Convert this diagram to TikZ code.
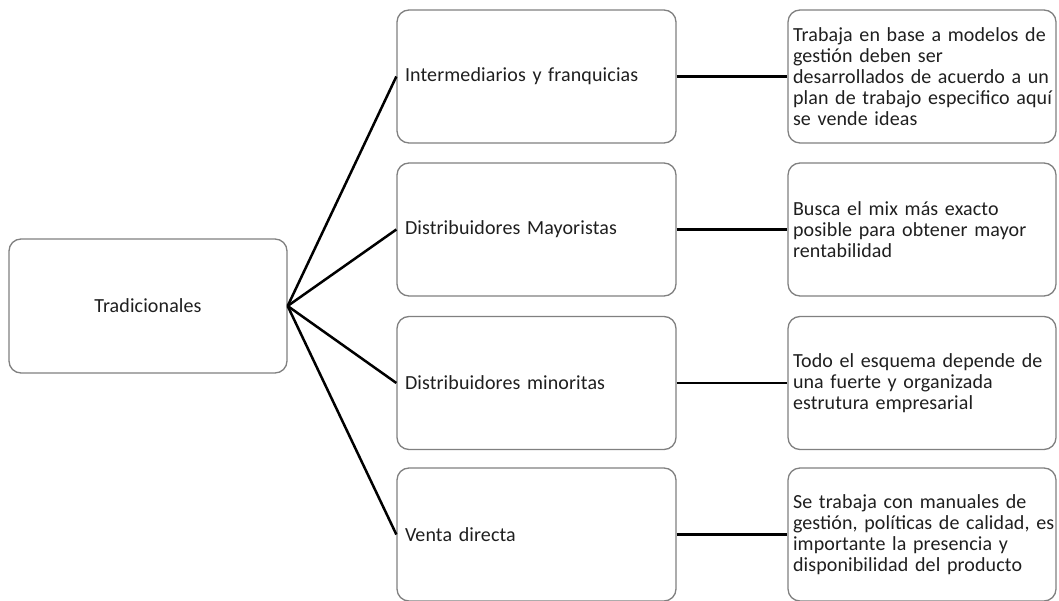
\documentclass[tikz,border=0pt]{standalone}
\usepackage{fontspec}
\setmainfont{Carlito}[LetterSpace=0.6]
\begin{document}
\begin{tikzpicture}[x=1pt,y=-1pt,
  box/.style={draw=black!50, line width=1.3pt, rounded corners=12pt, fill=white,
    text=black!88, font=\fontsize{20}{21}\selectfont, inner ysep=0pt},
  rootbox/.style={box, minimum width=278pt, minimum height=134pt, align=center},
  midbox/.style={box, minimum width=279pt, minimum height=133pt, inner xsep=8pt,
    text width=263pt, align=left},
  notebox/.style={box, minimum width=268pt, minimum height=133pt, inner xsep=5pt,
    text width=258pt, align=left},
  link/.style={line width=2.5pt, black}]
\useasboundingbox (0,0) rectangle (1059,601);

% root of the tree
\node[rootbox] (root) at (148,306) {Tradicionales};

% channels
\node[midbox] (m1) at (536.5,76.5)  {Intermediarios y franquicias};
\node[midbox] (m2) at (536.5,229.5) {Distribuidores Mayoristas};
\node[midbox] (m3) at (536.5,383)   {Distribuidores minoritas};
\node[midbox] (m4) at (536.5,534.5) {Venta directa};

% descriptions, one unbreakable box per printed line
\node[notebox] (n1) at (922,76.5) {\mbox{Trabaja en base a modelos de}\\\mbox{gestión deben ser}\\\mbox{desarrollados de acuerdo a un}\\\mbox{plan de trabajo especifico aquí}\\\mbox{se vende ideas}};
\node[notebox] (n2) at (922,229.5) {\mbox{Busca el mix más exacto}\\\mbox{posible para obtener mayor}\\\mbox{rentabilidad}};
\node[notebox] (n3) at (922,383) {\mbox{Todo el esquema depende de}\\\mbox{una fuerte y organizada}\\\mbox{estrutura empresarial}};
\node[notebox] (n4) at (922,534.5) {\mbox{Se trabaja con manuales de}\\\mbox{gestión, políticas de calidad, es}\\\mbox{importante la presencia y}\\\mbox{disponibilidad del producto}};

% connectors
\foreach \i in {1,...,4} {
  \draw[link] (root.east) -- (m\i.west);
  \draw[link] (m\i.east) -- (n\i.west);
}
\end{tikzpicture}
\end{document}
